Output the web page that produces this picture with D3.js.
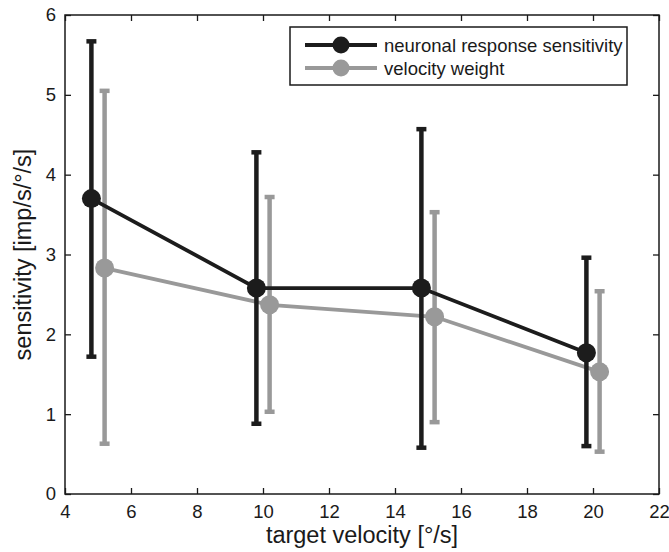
<!DOCTYPE html>
<html><head><meta charset="utf-8">
<script src="https://cdn.jsdelivr.net/npm/d3@7"></script>
<style>body{margin:0;background:#fff}text{font-family:"Liberation Sans",Arial,sans-serif;fill:#1a1a1a}</style>
</head><body><svg id="c" width="669" height="552"></svg>
<script>
const velocities=[5,10,15,20];
const neuronMean=[3.70,2.58,2.58,1.77];
const neuronLow=[1.72,0.88,0.58,0.60];
const neuronHigh=[5.67,4.28,4.57,2.96];
const weightMean=[2.83,2.37,2.22,1.53];
const weightLow=[0.63,1.03,0.90,0.53];
const weightHigh=[5.05,3.72,3.53,2.54];
const xTicks=[4,6,8,10,12,14,16,18,20,22];
const yTicks=[0,1,2,3,4,5,6];
const seriesNames=["neuronal response sensitivity","velocity weight"];
const offsets=[-0.2,0.2];
const colors=["#1c1c1c","#999999"];

const svg=d3.select("#c");
const L=65,R=659,T=15,B=494;
const x=d3.scaleLinear().domain([4,22]).range([L,R]);
const y=d3.scaleLinear().domain([0,6]).range([B,T]);

const g=svg.append("g");
const ax=(sel)=>sel.call(s=>s.select(".domain").remove());
g.append("g").attr("transform",`translate(0,${B})`).call(d3.axisBottom(x).tickValues(xTicks).tickSize(-6).tickPadding(11).tickFormat(d3.format("d"))).call(ax);
g.append("g").attr("transform",`translate(0,${T})`).call(d3.axisTop(x).tickValues(xTicks).tickSize(-6).tickFormat("")).call(ax);
g.append("g").attr("transform",`translate(${L},0)`).call(d3.axisLeft(y).tickValues(yTicks).tickSize(-6).tickPadding(9).tickFormat(d3.format("d"))).call(ax);
g.append("g").attr("transform",`translate(${R},0)`).call(d3.axisRight(y).tickValues(yTicks).tickSize(-6).tickFormat("")).call(ax);
g.selectAll(".tick line").attr("stroke","#1a1a1a").attr("stroke-width",1.3);
g.selectAll(".tick text").attr("font-size",18.5).attr("fill","#1a1a1a").attr("font-family","Liberation Sans, Arial, sans-serif");
g.append("rect").attr("x",L).attr("y",T).attr("width",R-L).attr("height",B-T).attr("fill","none").attr("stroke","#1a1a1a").attr("stroke-width",1.5);

const data=[
 {mean:neuronMean,low:neuronLow,high:neuronHigh},
 {mean:weightMean,low:weightLow,high:weightHigh}
];
[1,0].forEach(si=>{
  const s=data[si],c=colors[si],off=offsets[si];
  const pts=velocities.map((v,i)=>({x:v+off,m:s.mean[i],lo:s.low[i],hi:s.high[i]}));
  const eg=svg.append("g");
  pts.forEach(p=>{
    eg.append("line").attr("x1",x(p.x)).attr("x2",x(p.x)).attr("y1",y(p.lo)).attr("y2",y(p.hi)).attr("stroke",c).attr("stroke-width",4.5);
    [p.lo,p.hi].forEach(v=>eg.append("line").attr("x1",x(p.x)-5).attr("x2",x(p.x)+5).attr("y1",y(v)).attr("y2",y(v)).attr("stroke",c).attr("stroke-width",4.5));
  });
  svg.append("path").datum(pts).attr("fill","none").attr("stroke",c).attr("stroke-width",3.8)
    .attr("d",d3.line().x(d=>x(d.x)).y(d=>y(d.m)));
  svg.append("g").selectAll("circle").data(pts).join("circle").attr("cx",d=>x(d.x)).attr("cy",d=>y(d.m)).attr("r",9.5).attr("fill",c);
});

svg.append("text").attr("x",362).attr("y",543).attr("text-anchor","middle").attr("font-size",23.5).text("target velocity [°/s]");
svg.append("text").attr("transform",`translate(31,${(T+B)/2}) rotate(-90)`).attr("text-anchor","middle").attr("font-size",23.5).text("sensitivity [imp/s/°/s]");

const lg=svg.append("g");
lg.append("rect").attr("x",290).attr("y",27).attr("width",337).attr("height",58).attr("fill","#fff").attr("stroke","#1a1a1a").attr("stroke-width",1.5);
seriesNames.forEach((n,i)=>{
  const yy=45+i*23;
  lg.append("line").attr("x1",305).attr("x2",377).attr("y1",yy).attr("y2",yy).attr("stroke",colors[i]).attr("stroke-width",3.8);
  lg.append("circle").attr("cx",341).attr("cy",yy).attr("r",8.5).attr("fill",colors[i]);
  lg.append("text").attr("x",384).attr("y",yy+6.5).attr("font-size",18.5).text(n);
});
</script></body></html>
